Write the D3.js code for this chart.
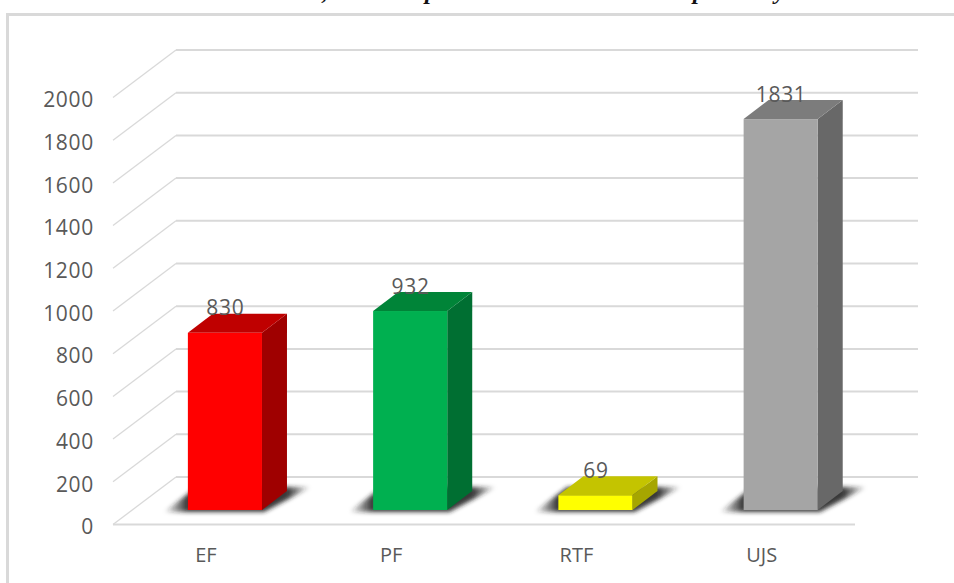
<!DOCTYPE html>
<html>
<head>
<meta charset="utf-8">
<script src="https://cdn.jsdelivr.net/npm/d3@7"></script>
<style>
  html, body { margin: 0; padding: 0; background: white; overflow: hidden; }
  text { font-family: "Open Sans", sans-serif; fill: #595959; }
</style>
</head>
<body>
<div id="container"></div>
<script>
const categories = ["EF", "PF", "RTF", "UJS"];
const values = [830, 932, 69, 1831];
const yTicks = [0, 200, 400, 600, 800, 1000, 1200, 1400, 1600, 1800, 2000];
const frontColors = ["#ff0000", "#00b050", "#ffff00", "#a5a5a5"];
const topColors = ["#bf0000", "#008438", "#c4c400", "#7c7c7c"];
const sideColors = ["#9f0000", "#006f32", "#a6a600", "#686868"];
// the title is cut off by the top of the picture, only these descenders show
const titleBits = [", 325", "p 431", "p 699", "y 780"];

const width = 954, height = 583;

// depth of the floor and of the bars, in pixels
const wallDx = 63, wallDy = -47.5;
const barDx = 25, barDy = -19;
const floorLift = 14.5;

let viz = d3.select("#container").append("svg")
    .attr("width", width)
    .attr("height", height)
    .style("display", "block")

let y = d3.scaleLinear().domain([0, 2000]).range([524.5, 97.5]);
let x = d3.scaleBand().domain(categories).range([132.3, 873.3]).paddingInner(0.6).paddingOuter(0.3);

let defs = viz.append("defs");
let blur = defs.append("filter")
    .attr("id", "shadowBlur")
    .attr("x", "-30%").attr("y", "-50%").attr("width", "160%").attr("height", "200%")
blur.append("feGaussianBlur").attr("stdDeviation", 2)

// shadow fades out at both tips
let fade = defs.append("linearGradient").attr("id", "shadowFade");
fade.append("stop").attr("offset", "0%").attr("stop-color", "#222").attr("stop-opacity", 0)
fade.append("stop").attr("offset", "16%").attr("stop-color", "#222").attr("stop-opacity", 0.9)
fade.append("stop").attr("offset", "84%").attr("stop-color", "#222").attr("stop-opacity", 0.9)
fade.append("stop").attr("offset", "100%").attr("stop-color", "#222").attr("stop-opacity", 0)

// frame, only top and left are inside the picture
viz.append("path")
    .attr("d", "M7.5,583 V14.5 H954")
    .attr("fill", "none")
    .attr("stroke", "#d9d9d9")
    .attr("stroke-width", 3)

// cut off title
viz.selectAll(".titleBit").data(titleBits).enter().append("text")
    .attr("class", "titleBit")
    .attr("x", d => +d.split(" ")[1])
    .attr("y", -1)
    .attr("text-anchor", "middle")
    .style("font-family", "'Liberation Serif'")
    .style("font-weight", "bold")
    .style("font-style", "italic")
    .style("font-size", "24px")
    .style("fill", "#111")
    .text(d => d.split(" ")[0])

// back wall and side wall gridlines
let grid = viz.append("g").attr("class", "grid").attr("stroke", "#d9d9d9").attr("fill", "none");
grid.selectAll(".back").data(yTicks).enter().append("line")
    .attr("class", "back")
    .attr("x1", 113 + wallDx)
    .attr("x2", 855 + wallDx)
    .attr("y1", d => y(d) + wallDy)
    .attr("y2", d => y(d) + wallDy)
    .attr("stroke-width", 2)
grid.selectAll(".side").data(yTicks).enter().append("line")
    .attr("class", "side")
    .attr("x1", 113)
    .attr("x2", 113 + wallDx)
    .attr("y1", d => y(d))
    .attr("y2", d => y(d) + wallDy)
    .attr("stroke-width", 1.3)
grid.append("line")
    .attr("x1", 113)
    .attr("x2", 855)
    .attr("y1", y(0))
    .attr("y2", y(0))
    .attr("stroke-width", 2)

let bars = viz.selectAll(".bar").data(categories).enter().append("g").attr("class", "bar");

function barTop(i) { return y(values[i]) - floorLift; }
let baseY = y(0) - floorLift;

// floor shadow
bars.append("polygon")
    .attr("points", d => {
        let l = x(d), r = l + x.bandwidth();
        return [[l - 24, baseY + 2], [r + 2, baseY + 2], [r + 49, baseY - 23], [l + 9, baseY - 23]].join(" ");
    })
    .attr("fill", "url(#shadowFade)")
    .attr("filter", "url(#shadowBlur)")

// right side of the box
bars.append("polygon")
    .attr("points", (d, i) => {
        let r = x(d) + x.bandwidth();
        return [[r, baseY], [r + barDx, baseY + barDy], [r + barDx, barTop(i) + barDy], [r, barTop(i)]].join(" ");
    })
    .attr("fill", (d, i) => sideColors[i])

// top of the box
bars.append("polygon")
    .attr("points", (d, i) => {
        let l = x(d), r = l + x.bandwidth(), t = barTop(i);
        return [[l, t], [r, t], [r + barDx, t + barDy], [l + barDx, t + barDy]].join(" ");
    })
    .attr("fill", (d, i) => topColors[i])

// front of the box
bars.append("rect")
    .attr("x", d => x(d))
    .attr("y", (d, i) => barTop(i))
    .attr("width", x.bandwidth())
    .attr("height", (d, i) => baseY - barTop(i))
    .attr("fill", (d, i) => frontColors[i])

// value labels
viz.selectAll(".value").data(categories).enter().append("text")
    .attr("class", "value")
    .attr("x", d => x(d) + x.bandwidth() / 2 + 0.5)
    .attr("y", (d, i) => barTop(i) - 17.5)
    .attr("text-anchor", "middle")
    .style("font-size", "21px")
    .style("letter-spacing", "0.7px")
    .text((d, i) => values[i])

// axes, lines are taken out because the grid above draws them
let yAxis = viz.append("g")
    .attr("transform", "translate(94,2.5)")
    .call(d3.axisLeft(y).tickValues(yTicks).tickSize(0).tickPadding(0).tickFormat(d3.format("d")))
yAxis.select(".domain").remove()
yAxis.selectAll("text")
    .style("font-size", "21px")
    .style("letter-spacing", "0.7px")
    .style("fill", "#595959")
    .style("font-family", "'Open Sans'")

let xAxis = viz.append("g")
    .attr("transform", "translate(-19,548)")
    .call(d3.axisBottom(x).tickSize(0).tickPadding(0))
xAxis.select(".domain").remove()
xAxis.selectAll("text").style("font-size", "20px").style("fill", "#595959").style("font-family", "'Open Sans'")
</script>
</body>
</html>
